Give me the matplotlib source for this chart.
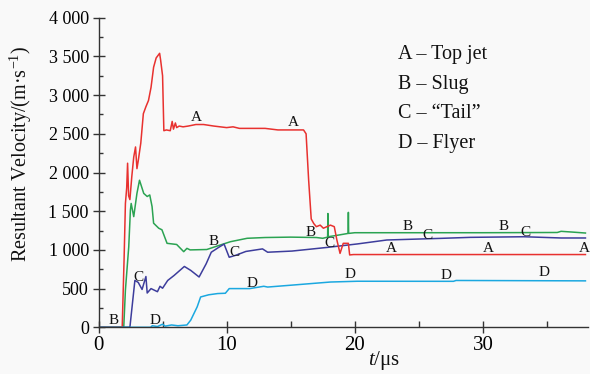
import matplotlib
matplotlib.use("Agg")
import matplotlib.pyplot as plt
from matplotlib.ticker import MultipleLocator, FuncFormatter

plt.rcParams['font.family'] = ['Liberation Serif', 'DejaVu Serif']
plt.rcParams['mathtext.fontset'] = 'custom'
plt.rcParams['mathtext.it'] = 'Liberation Serif:italic'
plt.rcParams['mathtext.rm'] = 'Liberation Serif'

# ---- data ----
a_t = [0, 1.85, 2.0, 2.1, 2.2, 2.27, 2.35, 2.45, 2.6, 2.75, 2.89, 3.0, 3.1, 3.3, 3.5, 3.7, 3.9,
       4.1, 4.3, 4.5, 4.77, 4.85, 5.0, 5.1, 5.3, 5.6, 5.75, 5.85, 6.0, 6.1, 6.3, 6.6, 7.0, 7.6,
       8.2, 9.0, 10.0, 10.5, 11.0, 12.0, 13.0, 14.0, 15.0, 16.0, 16.2, 16.4, 16.6, 16.8, 17.0,
       17.3, 17.55, 18.1, 18.4, 18.6, 18.85, 19.1, 19.5, 19.6, 19.9, 38.0]
a_v = [0, 0, 900, 1600, 1800, 2120, 1700, 1650, 1950, 2200, 2330, 2050, 2150, 2380, 2760, 2850,
       2930, 3100, 3360, 3480, 3540, 3450, 3250, 2540, 2550, 2540, 2660, 2560, 2640, 2580, 2600,
       2590, 2600, 2620, 2620, 2600, 2580, 2590, 2570, 2570, 2570, 2550, 2550, 2550, 2500, 1900,
       1400, 1340, 1300, 1320, 1280, 1320, 1300, 1130, 955, 1085, 1085, 935, 940, 940]

b_t = [0, 1.9, 1.97, 2.1, 2.36, 2.49, 2.55, 2.75, 3.0, 3.2, 3.53, 3.8, 4.0, 4.18, 4.3, 4.7,
       4.95, 5.35, 6.1, 6.65, 6.9, 7.15, 8.45, 9.5, 10.3, 11.6, 13.0, 15.0, 17.0, 17.5, 17.88,
       17.9, 17.92, 18.5, 19.48, 19.5, 19.52, 20.0, 22.0, 30.0, 35.8, 36.1, 37.0, 38.0]
b_v = [0, 0, 0, 480, 1040, 1515, 1600, 1430, 1730, 1900, 1730, 1690, 1710, 1560, 1345, 1280,
       1260, 1085, 1070, 977, 1020, 1000, 1005, 1063, 1106, 1150, 1160, 1165, 1160, 1150, 1165,
       1470, 1170, 1185, 1213, 1485, 1213, 1222, 1222, 1222, 1225, 1240, 1230, 1218]

c_t = [0, 2.4, 2.45, 2.84, 3.1, 3.4, 3.7, 3.8, 4.1, 4.6, 4.8, 5.0, 5.4, 5.9, 6.7, 7.2, 7.85,
       8.4, 8.8, 9.4, 9.8, 10.2, 10.7, 11.5, 12.8, 13.2, 15.1, 17.9, 20.2, 22.5, 26.7, 29.0,
       33.2, 36.1, 38.0]
c_v = [0, 0, 0, 606, 580, 489, 656, 443, 500, 460, 530, 505, 605, 670, 786, 735, 650, 820, 970,
       1035, 1075, 905, 930, 980, 1013, 970, 985, 1033, 1077, 1128, 1149, 1162, 1170, 1154, 1154]

d_t = [0, 4.06, 4.2, 4.6, 5.0, 5.2, 5.7, 6.2, 6.9, 7.2, 7.7, 7.97, 8.6, 9.3, 9.9, 10.2, 11.8,
       12.9, 13.2, 15.1, 18.1, 20.2, 27.7, 27.9, 38.0]
d_v = [0, 0, 20, 10, 40, 15, 30, 20, 30, 93, 264, 392, 420, 436, 440, 500, 500, 530, 520, 545,
       585, 595, 594, 605, 600]

curve_labels = [
    ("A", 7.67, 2711), ("A", 15.2, 2640), ("A", 22.86, 1018), ("A", 30.45, 1018), ("A", 37.9, 1018),
    ("B", 1.2, 88), ("B", 9.0, 1108), ("B", 16.55, 1225), ("B", 24.1, 1296), ("B", 31.6, 1296),
    ("C", 3.15, 643), ("C", 10.6, 960), ("C", 18.0, 1089), ("C", 25.66, 1186), ("C", 33.35, 1231),
    ("D", 4.4, 94), ("D", 11.95, 572), ("D", 19.6, 676), ("D", 27.1, 663), ("D", 34.8, 708),
]
legend_lines = ["A – Top jet", "B – Slug", "C – “Tail”", "D – Flyer"]

# ---- figure ----
bg = '#f9f9f9'
fig = plt.figure(figsize=(5.9, 3.74), dpi=100, facecolor=bg)
ax = fig.add_axes([98.5 / 590, 46.7 / 374, 489.5 / 590, 309.6 / 374], facecolor=bg)

lw = 1.1
ax.plot(b_t, b_v, color='#2ba352', lw=lw)
ax.plot(c_t, c_v, color='#3d3d9c', lw=lw)
ax.plot(a_t, a_v, color='#e8312f', lw=lw)
ax.plot(d_t, d_v, color='#1ba8e0', lw=lw)

for txt, x, y in curve_labels:
    ax.text(x, y, txt, ha='center', va='center', fontsize=11, color='#111111')

for i, s in enumerate(legend_lines):
    fig.text(398 / 590, 1 - (55 + 29.5 * i) / 374, s, ha='left', va='center',
             fontsize=14.5, color='#111111')

ax.set_xlim(0, 38.2)
ax.set_ylim(0, 4000)
for sp in ['top', 'right']:
    ax.spines[sp].set_visible(False)
for sp in ['left', 'bottom']:
    ax.spines[sp].set_color('#333333')
    ax.spines[sp].set_linewidth(1.0)

ax.yaxis.set_major_locator(MultipleLocator(500))
ax.yaxis.set_minor_locator(MultipleLocator(250))
ax.xaxis.set_major_locator(MultipleLocator(10))
ax.xaxis.set_minor_locator(MultipleLocator(5))
ax.yaxis.set_major_formatter(FuncFormatter(lambda v, p: f"{int(v):,}".replace(",", " ")))

ax.tick_params(axis='y', which='major', direction='inout', length=8, width=1, color='#333333',
               labelsize=13, pad=3)
ax.tick_params(axis='y', which='minor', direction='in', length=3, width=1, color='#333333')
ax.tick_params(axis='x', which='major', direction='inout', length=8, width=1, color='#333333',
               labelsize=15, pad=2)
ax.tick_params(axis='x', which='minor', direction='in', length=4, width=1, color='#333333')

fig.text(21 / 590, 1 - 154 / 374, "Resultant Velocity/(m·s$^{-1}$)", rotation=90,
         ha='center', va='center', fontsize=14.5, color='#111111')
fig.text(384 / 590, 1 - 361 / 374, "$t$/μs", ha='center', va='center', fontsize=15,
         color='#111111')

fig.savefig("out.png", dpi=100, facecolor=bg)
